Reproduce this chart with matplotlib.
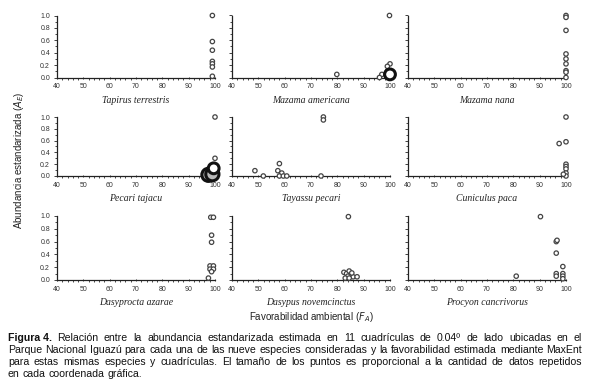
import matplotlib
matplotlib.use("Agg")
import matplotlib.pyplot as plt
from matplotlib.ticker import MultipleLocator

plt.rcParams['font.family'] = ['Liberation Sans', 'DejaVu Sans']

############## data ##############################################################################
species = ["Tapirus terrestris", "Mazama americana", "Mazama nana",
           "Pecari tajacu", "Tayassu pecari", "Cuniculus paca",
           "Dasyprocta azarae", "Dasypus novemcinctus", "Procyon cancrivorus"]

tapirus_x = [99, 99, 99, 99, 99, 99, 99]
tapirus_y = [1.0, 0.58, 0.44, 0.26, 0.22, 0.17, 0.02]
tapirus_n = [1, 1, 1, 1, 1, 1, 1]

mam_x = [79.8, 99.8, 100, 99, 99.2, 96.9, 96, 100]
mam_y = [0.05, 1.0, 0.22, 0.18, 0.11, 0.05, 0.0, 0.05]
mam_n = [1, 1, 1, 1, 1, 1, 1, 4]

man_x = [100, 100, 100, 100, 100, 100, 100, 100, 100]
man_y = [1.0, 0.97, 0.76, 0.38, 0.30, 0.22, 0.11, 0.085, 0.0]
man_n = [1, 1, 1, 1, 1, 1, 1, 1, 1]

pta_x = [100, 100, 97.5, 99, 99.5]
pta_y = [1.0, 0.30, 0.02, 0.03, 0.13]
pta_n = [1, 1, 6, 6, 4]

tpe_x = [74.7, 74.7, 48.7, 51.9, 58, 57.4, 58.9, 58, 59.5, 60.8, 73.8]
tpe_y = [1.0, 0.95, 0.09, 0.0, 0.21, 0.09, 0.05, 0.0, 0.0, 0.0, 0.0]
tpe_n = [1, 1, 1, 1, 1, 1, 1, 1, 1, 1, 1]

cpa_x = [100, 97.4, 100, 100, 100, 100, 100, 100, 99]
cpa_y = [1.0, 0.55, 0.58, 0.2, 0.16, 0.12, 0.05, 0.0, 0.03]
cpa_n = [1, 1, 1, 1, 1, 1, 1, 1, 1]

daz_x = [98.4, 99.4, 98.7, 98.7, 98.1, 99.4, 98.1, 99.4, 98.7, 97.5]
daz_y = [0.98, 0.98, 0.70, 0.59, 0.22, 0.22, 0.17, 0.17, 0.13, 0.03]
daz_n = [1, 1, 1, 1, 1, 1, 1, 1, 1, 1]

dno_x = [84.2, 82.5, 83.5, 84.5, 85, 84, 83, 86, 87.5, 85.5, 84.5]
dno_y = [0.99, 0.12, 0.10, 0.14, 0.08, 0.06, 0.03, 0.05, 0.05, 0.11, 0.03]
dno_n = [1, 1, 1, 1, 1, 1, 1, 1, 1, 1, 1]

pca_x = [90.3, 96.3, 96.6, 96.3, 98.8, 96.3, 98.8, 96.3, 98.8, 98.8, 81.1]
pca_y = [0.99, 0.60, 0.62, 0.42, 0.21, 0.10, 0.10, 0.06, 0.06, 0.02, 0.06]
pca_n = [1, 1, 1, 1, 1, 1, 1, 1, 1, 1, 1]

panels = [(tapirus_x, tapirus_y, tapirus_n), (mam_x, mam_y, mam_n), (man_x, man_y, man_n),
          (pta_x, pta_y, pta_n), (tpe_x, tpe_y, tpe_n), (cpa_x, cpa_y, cpa_n),
          (daz_x, daz_y, daz_n), (dno_x, dno_y, dno_n), (pca_x, pca_y, pca_n)]

caption_lines = [
    "Relación entre la abundancia estandarizada estimada en 11 cuadrículas de 0.04º de lado ubicadas en el",
    "Parque Nacional Iguazú para cada una de las nueve especies consideradas y la favorabilidad estimada mediante MaxEnt",
    "para estas mismas especies y cuadrículas. El tamaño de los puntos es proporcional a la cantidad de datos repetidos",
    "en cada coordenada gráfica.",
]

############## layout #############################################################################
W, H = 590, 387
fig = plt.figure(figsize=(W / 100, H / 100), dpi=100)
fig.patch.set_facecolor('white')

col_left = [57, 232, 408]
col_w = 158
row_bot = [77.5, 176, 280]
row_h = [62, 59, 64]

for i, (xs, ys, ns) in enumerate(panels):
    r, c = divmod(i, 3)
    ax = fig.add_axes([col_left[c] / W, (H - row_bot[r]) / H, col_w / W, row_h[r] / H])
    ax.set_xlim(40, 100)
    ax.set_ylim(0, 1.0)
    for s in ['top', 'right']:
        ax.spines[s].set_visible(False)
    for s in ['left', 'bottom']:
        ax.spines[s].set_linewidth(0.9)
        ax.spines[s].set_color('#222222')

    face = ['#b8b8b8' if n >= 5 else 'white' for n in ns]
    edge = ['#111111' if n >= 3 else '#444444' for n in ns]
    lw = [2.2 if n >= 3 else 0.9 for n in ns]
    size = [10 if n == 1 else 10 * n * 1.5 for n in ns]
    ax.scatter(xs, ys, s=size, facecolors=face, edgecolors=edge, linewidths=lw,
               clip_on=False, zorder=3)

    ax.xaxis.set_major_locator(MultipleLocator(10))
    ax.xaxis.set_minor_locator(MultipleLocator(2))
    ax.yaxis.set_major_locator(MultipleLocator(0.2))
    ax.yaxis.set_minor_locator(MultipleLocator(0.1))
    ax.tick_params(axis='both', which='major', labelsize=5, length=2, width=0.6,
                   pad=3, colors='#222222', labelcolor='#333333')
    ax.tick_params(axis='both', which='minor', length=1.2, width=0.5)
    ax.tick_params(axis='y', direction='out')
    ax.tick_params(axis='x', direction='inout')
    if c > 0:
        ax.set_yticklabels([])
    else:
        ax.set_yticks([0, 0.2, 0.4, 0.6, 0.8, 1.0], ["0.0", "0.2", "0.4", "0.6", "0.8", "1.0"])
    ax.set_xlabel(species[i], fontsize=7, family=['Liberation Serif', 'DejaVu Serif'],
                  style='italic', labelpad=4, color='#222222')

fig.text(311 / W, 1 - 317 / H, r"Favorabilidad ambiental ($F_A$)", ha='center', va='center',
         fontsize=7, color='#222222')
fig.text(19 / W, 1 - 160 / H, r"Abundancia estandarizada ($A_E$)", ha='center', va='center',
         rotation=90, fontsize=7, color='#222222')

############## justified caption ##################################################################
renderer = fig.canvas.get_renderer()
x0, x1 = 8, 582
line_y = [338, 350, 362, 374]
fs = 7.6

for k, line in enumerate(caption_lines):
    words = line.split(" ")
    items = []
    if k == 0:
        items.append(("Figura 4.", 'bold'))
    items += [(w, 'normal') for w in words]
    texts = []
    for w, wt in items:
        t = fig.text(0, 1 - line_y[k] / H, w, fontsize=fs, weight=wt, va='center',
                     ha='left', color='#111111')
        texts.append(t)
    widths = [t.get_window_extent(renderer).width for t in texts]
    if k < len(caption_lines) - 1:
        gap = (x1 - x0 - sum(widths)) / (len(texts) - 1)
    else:
        gap = fs * 0.28 * 100 / 72
    x = x0
    for t, wd in zip(texts, widths):
        t.set_x(x / W)
        x += wd + gap

fig.savefig("out.png", dpi=100, facecolor='white')
